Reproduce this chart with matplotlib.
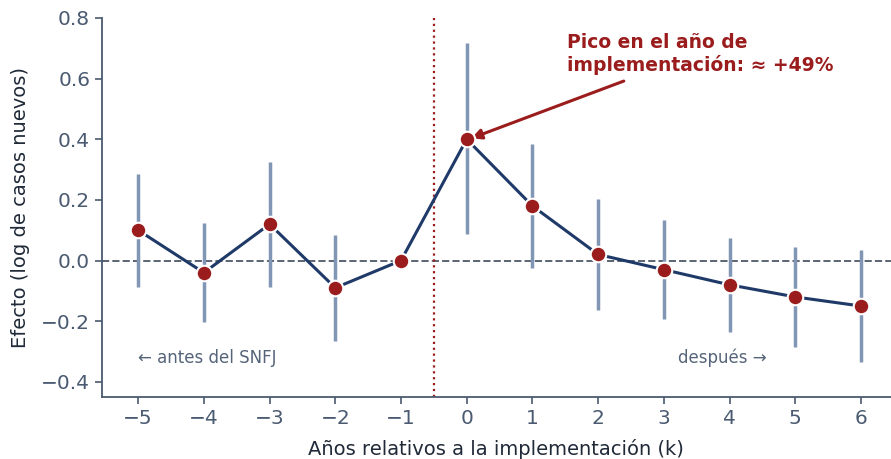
import numpy as np
import matplotlib.pyplot as plt

# datos del estudio de eventos
k = [-5, -4, -3, -2, -1, 0, 1, 2, 3, 4, 5, 6]
efecto = [0.10, -0.04, 0.12, -0.09, 0.0, 0.40, 0.18, 0.02, -0.03, -0.08, -0.12, -0.15]
ic_bajo = [-0.086, -0.204, -0.086, -0.266, 0.0, 0.086, -0.024, -0.164, -0.194, -0.236, -0.284, -0.335]
ic_alto = [0.286, 0.125, 0.326, 0.085, 0.0, 0.717, 0.385, 0.204, 0.135, 0.075, 0.045, 0.036]

c_eje = '#4a5a70'
c_linea = '#1f3a68'
c_punto = '#9b1c1c'
c_barra = '#8096b4'

fig = plt.figure(figsize=(8.91, 4.59), dpi=100)
ax = fig.add_axes([0.1145, 0.135, 0.885, 0.826])

# barras de error (sin la referencia k=-1)
for x, lo, hi in zip(k, ic_bajo, ic_alto):
    if hi - lo > 0:
        ax.vlines(x, lo, hi, color=c_barra, lw=2.5, zorder=2)

ax.axhline(0, color='#5b6573', ls='--', lw=1.4, zorder=1)
ax.axvline(-0.5, color=c_punto, ls=':', lw=1.6, zorder=1)

ax.plot(k, efecto, color=c_linea, lw=2.2, zorder=3)
ax.scatter(k, efecto, s=125, color=c_punto, edgecolor='white', linewidth=1.5, zorder=4)

ax.text(1.52, 0.75, 'Pico en el año de\nimplementación: ≈ +49%', color=c_punto,
        fontsize=13.5, fontweight='bold', ha='left', va='top')
ax.annotate('', xy=(0.03, 0.40), xytext=(2.43, 0.595),
            arrowprops=dict(arrowstyle='-|>', color=c_punto, lw=2.2, mutation_scale=15))

ax.text(-5, -0.32, '← antes del SNFJ', color='#556479', fontsize=12, ha='left', va='center')
ax.text(4.56, -0.32, 'después →', color='#556479', fontsize=12, ha='right', va='center')

ax.set_xlim(-5.55, 6.45)
ax.set_ylim(-0.45, 0.8)
ax.set_xticks(k)
ax.set_yticks([-0.4, -0.2, 0.0, 0.2, 0.4, 0.6, 0.8])
ax.set_yticklabels(['−0.4', '−0.2', '0.0', '0.2', '0.4', '0.6', '0.8'])

ax.set_xlabel('Años relativos a la implementación (k)', fontsize=14, color='#1f2937', labelpad=8)
ax.set_ylabel('Efecto (log de casos nuevos)', fontsize=14, color='#1f2937', labelpad=8)

for s in ['top', 'right']:
    ax.spines[s].set_visible(False)
for s in ['left', 'bottom']:
    ax.spines[s].set_color(c_eje)
    ax.spines[s].set_linewidth(1.3)
ax.tick_params(colors=c_eje, labelsize=14.5, length=5, width=1.2)

fig.savefig('out.png', dpi=100)
